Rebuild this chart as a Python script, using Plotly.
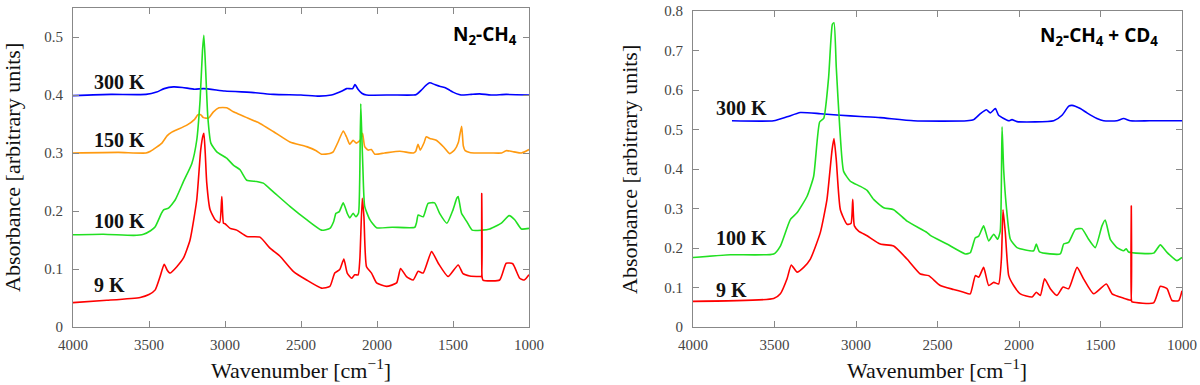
import plotly.graph_objects as go

# ---------------- data: left panel (N2-CH4) ----------------
L300_wn = [4000, 3750, 3520, 3450, 3400, 3339, 3280, 3200, 3140, 3000, 2800, 2680, 2500, 2380, 2300, 2266, 2230, 2200, 2160, 2145, 2125, 2100, 2069, 1900, 1760, 1741, 1710, 1680, 1653, 1620, 1588, 1555, 1520, 1500, 1460, 1434, 1380, 1325, 1250, 1150, 1000]
L300_y = [0.399, 0.401, 0.401, 0.405, 0.411, 0.414, 0.413, 0.410, 0.411, 0.407, 0.404, 0.401, 0.400, 0.398, 0.400, 0.403, 0.407, 0.411, 0.411, 0.418, 0.410, 0.403, 0.400, 0.400, 0.400, 0.401, 0.408, 0.416, 0.421, 0.418, 0.415, 0.413, 0.408, 0.405, 0.401, 0.400, 0.401, 0.402, 0.400, 0.401, 0.400]

L150_wn = [4000, 3700, 3520, 3490, 3450, 3415, 3380, 3350, 3317, 3251, 3200, 3178, 3160, 3142, 3109, 3076, 3040, 2989, 2945, 2900, 2857, 2770, 2682, 2573, 2463, 2400, 2365, 2310, 2288, 2256, 2222, 2201, 2179, 2157, 2136, 2110, 2095, 2081, 2058, 2037, 2014, 1950, 1850, 1760, 1745, 1730, 1715, 1690, 1676, 1653, 1610, 1560, 1522, 1490, 1465, 1456, 1443, 1432, 1420, 1390, 1346, 1250, 1180, 1150, 1100, 1050, 1000]
L150_y = [0.300, 0.301, 0.300, 0.303, 0.310, 0.317, 0.330, 0.336, 0.340, 0.348, 0.358, 0.366, 0.366, 0.361, 0.360, 0.371, 0.378, 0.378, 0.371, 0.366, 0.361, 0.351, 0.337, 0.319, 0.311, 0.304, 0.298, 0.299, 0.302, 0.319, 0.338, 0.328, 0.315, 0.322, 0.317, 0.322, 0.334, 0.311, 0.305, 0.306, 0.298, 0.300, 0.303, 0.300, 0.303, 0.315, 0.305, 0.318, 0.328, 0.325, 0.322, 0.310, 0.299, 0.305, 0.318, 0.330, 0.346, 0.312, 0.304, 0.301, 0.300, 0.300, 0.300, 0.304, 0.302, 0.300, 0.306]

L100_wn = [4000, 3800, 3600, 3536, 3490, 3459, 3420, 3404, 3372, 3328, 3273, 3218, 3186, 3164, 3148, 3139, 3128, 3113, 3093, 3054, 2989, 2945, 2901, 2857, 2791, 2748, 2682, 2573, 2463, 2365, 2310, 2285, 2270, 2248, 2222, 2196, 2179, 2157, 2139, 2122, 2114, 2107, 2100, 2093, 2081, 2047, 2003, 1900, 1751, 1740, 1729, 1696, 1664, 1621, 1588, 1540, 1500, 1475, 1466, 1444, 1410, 1374, 1310, 1258, 1182, 1131, 1094, 1050, 1000]
L100_y = [0.159, 0.160, 0.158, 0.160, 0.166, 0.173, 0.195, 0.202, 0.205, 0.219, 0.251, 0.282, 0.322, 0.391, 0.477, 0.503, 0.448, 0.362, 0.317, 0.302, 0.291, 0.279, 0.271, 0.253, 0.251, 0.248, 0.233, 0.208, 0.185, 0.167, 0.170, 0.182, 0.196, 0.199, 0.214, 0.196, 0.188, 0.196, 0.190, 0.196, 0.250, 0.385, 0.330, 0.276, 0.208, 0.185, 0.171, 0.172, 0.172, 0.180, 0.193, 0.190, 0.213, 0.214, 0.196, 0.179, 0.202, 0.222, 0.225, 0.196, 0.182, 0.167, 0.167, 0.169, 0.179, 0.192, 0.185, 0.169, 0.170]

L9_wn = [4000, 3777, 3558, 3500, 3459, 3427, 3400, 3380, 3361, 3317, 3273, 3230, 3186, 3160, 3145, 3139, 3130, 3120, 3098, 3065, 3035, 3021, 3010, 3000, 2966, 2923, 2857, 2770, 2704, 2638, 2551, 2463, 2365, 2310, 2278, 2245, 2218, 2196, 2168, 2146, 2124, 2113, 2097, 2086, 2069, 2036, 2003, 1937, 1871, 1845, 1806, 1762, 1729, 1696, 1641, 1597, 1532, 1466, 1434, 1390, 1320, 1313, 1311, 1309, 1303, 1193, 1150, 1107, 1061, 1031, 1000]
L9_y = [0.042, 0.046, 0.051, 0.056, 0.064, 0.087, 0.108, 0.098, 0.093, 0.104, 0.119, 0.150, 0.219, 0.305, 0.330, 0.334, 0.300, 0.248, 0.202, 0.185, 0.180, 0.225, 0.179, 0.178, 0.170, 0.167, 0.156, 0.155, 0.136, 0.122, 0.096, 0.081, 0.067, 0.070, 0.093, 0.099, 0.117, 0.093, 0.084, 0.090, 0.090, 0.116, 0.222, 0.190, 0.104, 0.093, 0.076, 0.070, 0.076, 0.101, 0.087, 0.081, 0.096, 0.093, 0.130, 0.110, 0.087, 0.107, 0.092, 0.088, 0.087, 0.087, 0.230, 0.087, 0.081, 0.081, 0.110, 0.109, 0.084, 0.081, 0.090]

# ---------------- data: right panel (N2-CH4 + CD4) ----------------
R300_wn = [3761, 3505, 3423, 3342, 3219, 3096, 2973, 2851, 2646, 2319, 2278, 2237, 2200, 2176, 2145, 2125, 2094, 2063, 2043, 2012, 1787, 1736, 1695, 1675, 1624, 1583, 1522, 1481, 1400, 1358, 1317, 1200, 1000]
R300_y = [0.522, 0.522, 0.532, 0.543, 0.540, 0.536, 0.533, 0.530, 0.522, 0.522, 0.525, 0.540, 0.550, 0.542, 0.553, 0.536, 0.528, 0.522, 0.525, 0.520, 0.522, 0.536, 0.559, 0.561, 0.553, 0.542, 0.528, 0.522, 0.522, 0.528, 0.522, 0.522, 0.522]

R100_wn = [4000, 3771, 3505, 3464, 3403, 3362, 3300, 3260, 3223, 3198, 3168, 3145, 3135, 3121, 3100, 3076, 3035, 3014, 2973, 2932, 2892, 2830, 2769, 2687, 2564, 2544, 2442, 2329, 2299, 2268, 2247, 2217, 2186, 2155, 2131, 2115, 2104, 2094, 2078, 2053, 2012, 1910, 1894, 1874, 1747, 1726, 1696, 1654, 1614, 1573, 1532, 1491, 1471, 1440, 1399, 1358, 1342, 1328, 1174, 1133, 1092, 1031, 1000]
R100_y = [0.176, 0.183, 0.185, 0.205, 0.272, 0.289, 0.331, 0.381, 0.519, 0.528, 0.632, 0.766, 0.770, 0.657, 0.507, 0.394, 0.369, 0.364, 0.356, 0.346, 0.323, 0.302, 0.297, 0.268, 0.239, 0.232, 0.210, 0.185, 0.188, 0.226, 0.230, 0.256, 0.218, 0.235, 0.222, 0.243, 0.507, 0.398, 0.306, 0.222, 0.201, 0.193, 0.210, 0.190, 0.185, 0.210, 0.214, 0.247, 0.249, 0.222, 0.201, 0.256, 0.271, 0.222, 0.201, 0.193, 0.198, 0.190, 0.187, 0.208, 0.189, 0.168, 0.176]

R9_wn = [4000, 3505, 3464, 3423, 3397, 3362, 3321, 3280, 3219, 3178, 3147, 3135, 3121, 3096, 3055, 3031, 3020, 3010, 2984, 2932, 2851, 2769, 2687, 2605, 2554, 2483, 2401, 2339, 2299, 2268, 2247, 2217, 2186, 2155, 2125, 2108, 2098, 2084, 2063, 2033, 1992, 1920, 1894, 1869, 1843, 1808, 1767, 1730, 1695, 1644, 1604, 1542, 1464, 1429, 1358, 1317, 1313, 1311, 1309, 1303, 1174, 1133, 1092, 1061, 1020, 1000]
R9_y = [0.065, 0.072, 0.084, 0.122, 0.157, 0.139, 0.151, 0.172, 0.239, 0.323, 0.448, 0.477, 0.423, 0.297, 0.260, 0.262, 0.323, 0.256, 0.243, 0.231, 0.210, 0.205, 0.172, 0.134, 0.130, 0.105, 0.095, 0.088, 0.084, 0.130, 0.126, 0.151, 0.105, 0.113, 0.109, 0.172, 0.297, 0.239, 0.130, 0.105, 0.084, 0.076, 0.088, 0.080, 0.122, 0.097, 0.080, 0.101, 0.097, 0.151, 0.122, 0.084, 0.109, 0.084, 0.073, 0.068, 0.068, 0.306, 0.065, 0.063, 0.061, 0.103, 0.097, 0.067, 0.067, 0.092]

x_ticks = [4000, 3500, 3000, 2500, 2000, 1500, 1000]
left_yticks = [0, 0.1, 0.2, 0.3, 0.4, 0.5]
right_yticks = [0, 0.1, 0.2, 0.3, 0.4, 0.5, 0.6, 0.7, 0.8]

BLUE = "#0000ff"
ORANGE = "#ff9a10"
GREEN = "#22e022"
RED = "#ff0000"
SERIF = "Liberation Serif"

fig = go.Figure()

def add(wn, y, color, xa, ya):
    fig.add_trace(go.Scatter(x=wn, y=y, mode="lines",
                             line=dict(color=color, width=1.6, shape="spline", smoothing=0.5),
                             xaxis=xa, yaxis=ya, showlegend=False, hoverinfo="skip"))

add(L300_wn, L300_y, BLUE, "x", "y")
add(L150_wn, L150_y, ORANGE, "x", "y")
add(L100_wn, L100_y, GREEN, "x", "y")
add(L9_wn, L9_y, RED, "x", "y")
add(R300_wn, R300_y, BLUE, "x2", "y2")
add(R100_wn, R100_y, GREEN, "x2", "y2")
add(R9_wn, R9_y, RED, "x2", "y2")

W, H = 1200, 385
def px_x(p): return p / W
def px_y(p): return 1 - p / H

axis_common = dict(showline=True, linecolor="#888888", linewidth=1.2, mirror="ticks",
                   ticks="inside", ticklen=6, tickcolor="#888888", tickwidth=1,
                   showgrid=False, zeroline=False, automargin=False,
                   tickfont=dict(family=SERIF, size=15, color="#444444"))

fig.update_layout(
    width=W, height=H, margin=dict(l=0, r=0, t=0, b=0),
    plot_bgcolor="white", paper_bgcolor="white",
    xaxis=dict(domain=[px_x(73), px_x(529)], range=[4000, 1000], tickvals=x_ticks,
               anchor="y", ticklabelstandoff=4, **axis_common),
    yaxis=dict(domain=[px_y(327), px_y(8)], range=[0, 0.55], tickvals=left_yticks,
               ticktext=["0", "0.1", "0.2", "0.3", "0.4", "0.5"],
               anchor="x", ticklabelstandoff=6, **axis_common),
    xaxis2=dict(domain=[px_x(693), px_x(1182)], range=[4000, 1000], tickvals=x_ticks,
                anchor="y2", ticklabelstandoff=4, **axis_common),
    yaxis2=dict(domain=[px_y(327), px_y(11)], range=[0, 0.8], tickvals=right_yticks,
                ticktext=["0", "0.1", "0.2", "0.3", "0.4", "0.5", "0.6", "0.7", "0.8"],
                anchor="x2", ticklabelstandoff=6, **axis_common),
)

lab_font = dict(family=SERIF, size=20, color="#111111")
anns = []
for txt, yv in [("300 K", 0.4226), ("150 K", 0.322), ("100 K", 0.182), ("9 K", 0.073)]:
    anns.append(dict(x=3875, y=yv, xref="x", yref="y", text="<b>" + txt + "</b>", showarrow=False,
                     xanchor="left", yanchor="middle", font=lab_font))
for txt, yv in [("300 K", 0.555), ("100 K", 0.226), ("9 K", 0.094)]:
    anns.append(dict(x=3873, y=yv, xref="x2", yref="y2", text="<b>" + txt + "</b>", showarrow=False,
                     xanchor="left", yanchor="middle", font=lab_font))

title_font = dict(family="Open Sans", size=19, color="#000000")
anns.append(dict(x=px_x(485), y=px_y(35), xref="paper", yref="paper",
                 text="<b>N<sub>2</sub>-CH<sub>4</sub></b>", showarrow=False,
                 xanchor="center", yanchor="middle", font=title_font))
anns.append(dict(x=px_x(1099), y=px_y(36), xref="paper", yref="paper",
                 text="<b>N<sub>2</sub>-CH<sub>4</sub> + CD<sub>4</sub></b>", showarrow=False,
                 xanchor="center", yanchor="middle", font=title_font))

axt_font = dict(family=SERIF, size=22, color="#111111")
for cx in [301, 937]:
    anns.append(dict(x=px_x(cx), y=px_y(369), xref="paper", yref="paper",
                     text="Wavenumber [cm<sup>−1</sup>]", showarrow=False,
                     xanchor="center", yanchor="middle", font=axt_font))
for cx, cy in [(13, 168), (630, 170)]:
    anns.append(dict(x=px_x(cx), y=px_y(cy), xref="paper", yref="paper",
                     text="Absorbance [arbitrary units]", showarrow=False, textangle=-90,
                     xanchor="center", yanchor="middle", font=axt_font))

fig.update_layout(annotations=anns)
fig.write_html("out.html", config={"displayModeBar": False},
               post_script="document.body.style.margin='0';document.body.style.overflow='hidden';")
